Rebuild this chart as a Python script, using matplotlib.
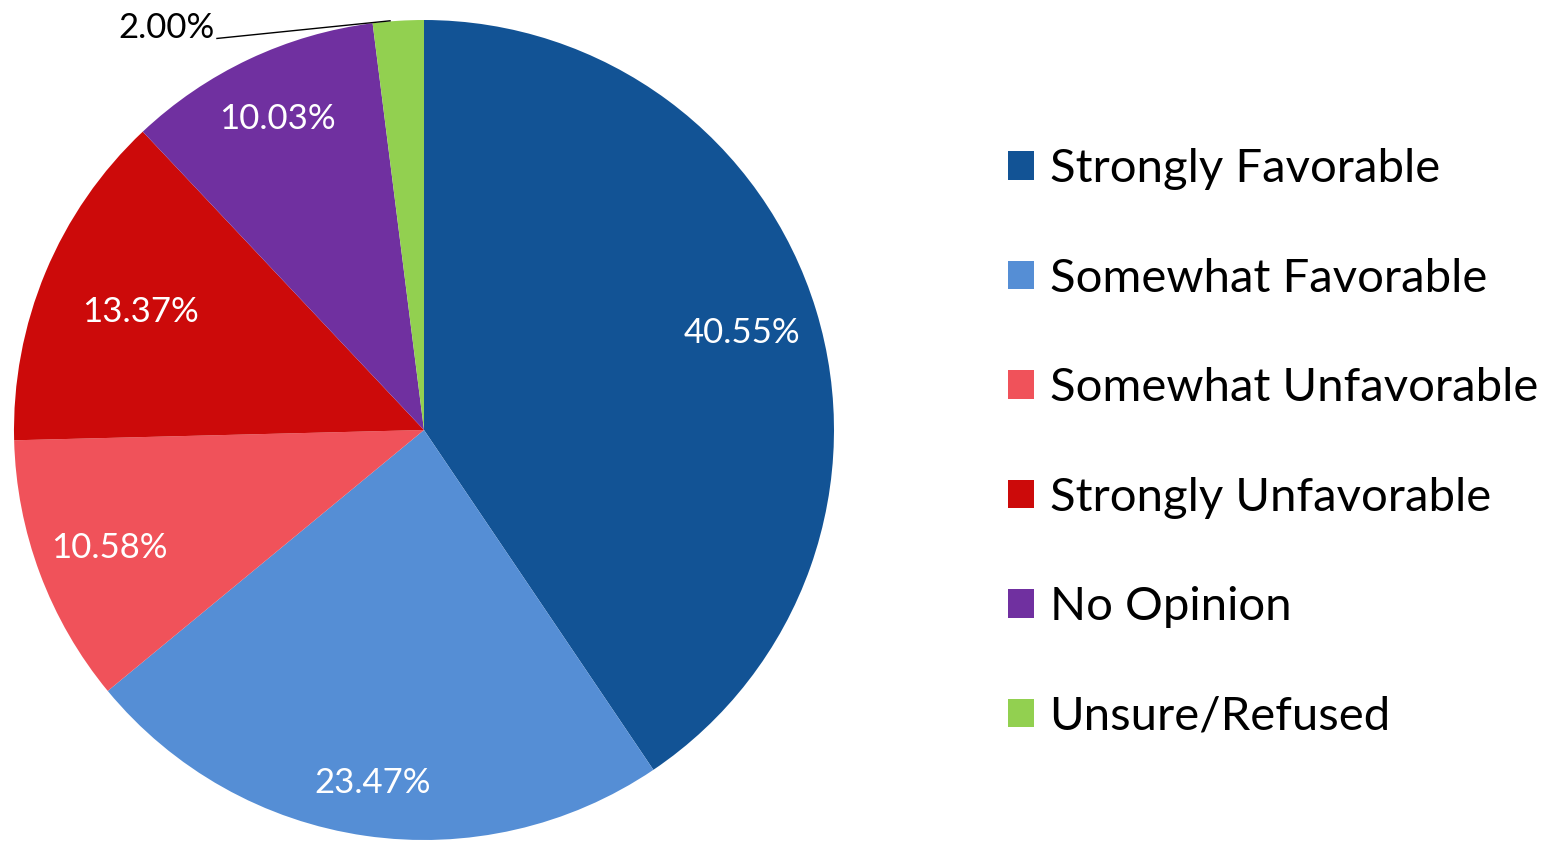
import numpy as np
import matplotlib.pyplot as plt
import matplotlib.patches as mpatches

categories = ["Strongly Favorable", "Somewhat Favorable", "Somewhat Unfavorable",
              "Strongly Unfavorable", "No Opinion", "Unsure/Refused"]
values = [40.55, 23.47, 10.58, 13.37, 10.03, 2.00]
colors = ["#125395", "#558ed5", "#f0525a", "#cc0a0a", "#7030a0", "#92d050"]

# radial distance of each inside label (fraction of radius)
label_dist = [0.81, 0.87, 0.82, 0.75, 0.84, None]

plt.rcParams['font.family'] = ['Lato', 'DejaVu Sans']

fig = plt.figure(figsize=(15.43, 8.43), dpi=100)
W, H = 1543, 843
cx, cy, r = 424, 430, 410
ax = fig.add_axes([(cx - r) / W, (H - cy - r) / H, 2 * r / W, 2 * r / H])

wedges, _ = ax.pie(values, colors=colors, startangle=90, counterclock=False,
                   wedgeprops=dict(linewidth=0))
ax.set_xlim(-1, 1)
ax.set_ylim(-1, 1)

# labels inside the slices
for i, w in enumerate(wedges):
    if label_dist[i] is None:
        continue
    ang = np.deg2rad((w.theta1 + w.theta2) / 2)
    d = label_dist[i]
    ax.text(d * np.cos(ang), d * np.sin(ang), f"{values[i]:.2f}%",
            ha="center", va="center", color="white", fontsize=25)

# small slice label with leader line
w = wedges[-1]
ang = np.deg2rad((w.theta1 + w.theta2) / 2)
tx, ty = -0.505, 0.955
ax.text(tx - 0.005, ty, f"{values[-1]:.2f}%", ha="right", va="baseline",
        fontsize=25, color="black", clip_on=False)
ax.plot([tx, 1.0 * np.cos(ang) - 0.02], [ty, 1.0 * np.sin(ang)], color="black",
        lw=1, clip_on=False)

handles = [mpatches.Patch(facecolor=c, edgecolor="none", label=l) for c, l in zip(colors, categories)]
fig.legend(handles=handles, loc="upper left", bbox_to_anchor=(1008 / W, 1 - 148 / H),
           frameon=False, fontsize=34, handlelength=0.55, handleheight=0.55,
           handletextpad=0.33, labelspacing=1.43, borderaxespad=0, borderpad=0)

fig.savefig("out.png", dpi=100)
